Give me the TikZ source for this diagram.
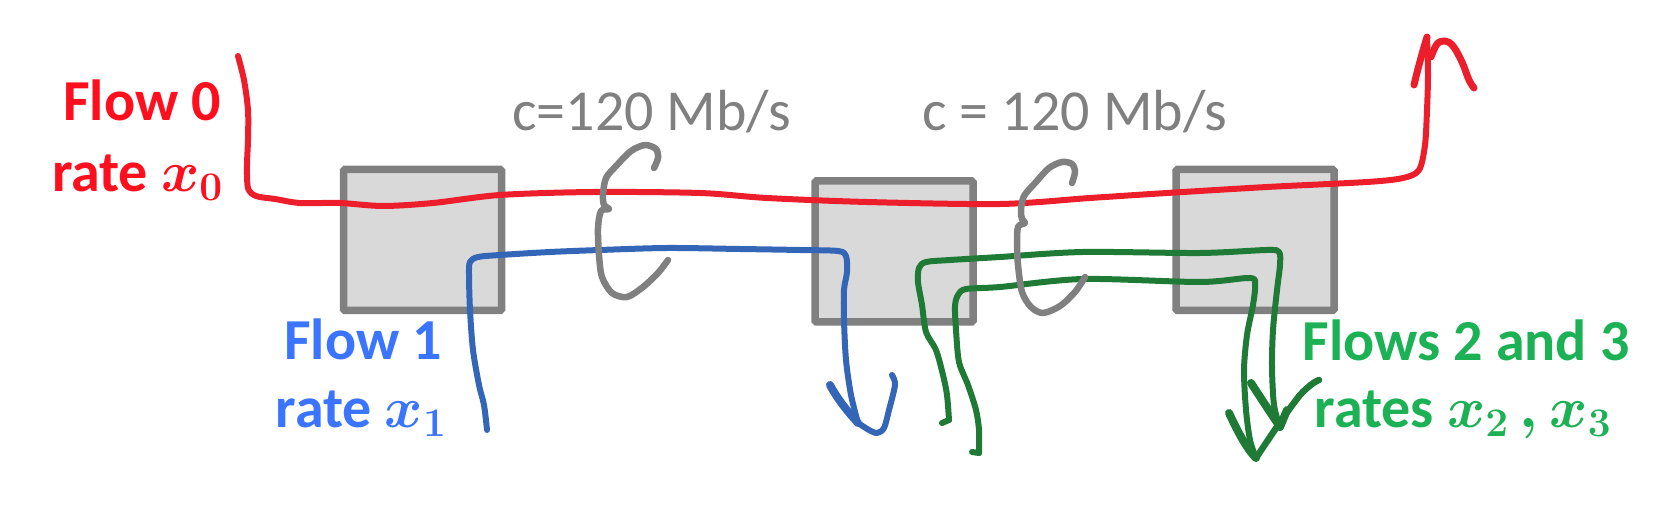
\documentclass[tikz,border=0pt]{standalone}
\usepackage{fix-cm}
\usepackage{fontspec}
\setmainfont{Carlito}

\definecolor{redtxt}{RGB}{255,14,30}
\definecolor{redline}{RGB}{236,30,44}
\definecolor{bluetxt}{RGB}{59,117,255}
\definecolor{blueline}{RGB}{52,102,184}
\definecolor{greentxt}{RGB}{27,177,84}
\definecolor{greenline}{RGB}{31,122,54}
\definecolor{graytxt}{RGB}{128,128,128}
\definecolor{boxgray}{RGB}{128,128,128}
\definecolor{boxfill}{RGB}{217,217,217}

\tikzset{
  router/.style={draw=boxgray, fill=boxfill, line width=7.5pt, minimum width=158pt,
    minimum height=141pt, inner sep=0pt, rounded corners=1.5pt},
  flowline/.style={line width=6pt, line cap=round, line join=round},
  redflow/.style={flowline, draw=redline},
  blueflow/.style={flowline, draw=blueline},
  greenflow/.style={flowline, draw=greenline},
  barb/.style={line width=7pt, line cap=round, line join=round},
  bracestroke/.style={draw=graytxt, line width=6.5pt, line cap=round, line join=round},
  flowlbl/.style={inner sep=0pt, font=\fontsize{58}{68}\selectfont\bfseries\boldmath},
  caplbl/.style={inner sep=0pt, font=\fontsize{58}{68}\selectfont, text=graytxt},
}

\begin{document}
\begin{tikzpicture}[x=1pt,y=-1pt]
\useasboundingbox (0,0) rectangle (1660,510);

% routers
\node[router] (r1) at (422.5,240) {};
\node[router] (r2) at (894,251.5) {};
\node[router] (r3) at (1255,240) {};

% labels
\node[flowlbl, text=redtxt, anchor=base east] (l0a) at (221,121) {Flow 0};
\node[flowlbl, text=redtxt, anchor=base east] (l0b) at (223,192) {rate $x_0$};
\node[flowlbl, text=bluetxt, anchor=base] (l1a) at (363,360) {Flow 1};
\node[flowlbl, text=bluetxt, anchor=base] (l1b) at (361,428) {rate $x_1$};
\node[flowlbl, text=greentxt, anchor=base] (l2a) at (1466,361) {Flows 2 and 3};
\node[flowlbl, text=greentxt, anchor=base] (l2b) at (1463,428) {rates $x_2\,, x_3$};
\node[caplbl, anchor=base west] (c1) at (512,131) {c=120 Mb/s};
\node[caplbl, anchor=base west] (c2) at (922,131) {c = 120 Mb/s};

% endpoints
\coordinate (f0s) at (238,56);
\coordinate (f0e) at (1427,37);
\coordinate (f1s) at (487,430);
\coordinate (f1e) at (858,423);
\coordinate (f2s) at (949,420);
\coordinate (f2e) at (1280,427);
\coordinate (f3s) at (979,453);
\coordinate (f3e) at (1256,458);

% flow 0 (red)
\draw[redflow] plot[smooth, tension=0.5] coordinates {(f0s) (244,80) (248,110) (248,140) (247,165) (248,188) (256,196) (275,199) (300,203) (340,203) (383,206) (433,203) (500,195) (593,192) (700,193) (767,198) (867,202) (1000,204) (1090,198) (1167,193) (1267,187) (1367,182) (1403,178) (1419,170) (1425,145) (1427,110) (1428,75) (f0e)};
\draw[barb, draw=redline] (1414,85) .. controls (1418,68) and (1423,50) .. (f0e);
\draw[barb, draw=redline] plot[smooth, tension=0.6] coordinates {(1431,57) (1437,44) (1445,41) (1453,46) (1462,62) (1469,80) (1474,88)};

% flow 1 (blue)
\draw[blueflow] plot[smooth, tension=0.5] coordinates {(f1s) (484,405) (479,385) (473,350) (470,310) (469,275) (470,262) (478,257) (500,255) (550,252) (600,250) (667,248) (740,249) (800,250) (838,251) (846,256) (847,272) (844,290) (844,320) (846,360) (851,395) (f1e)};
\draw[barb, draw=blueline, line width=8pt] (830,385) .. controls (838,400) and (848,412) .. (f1e);
\draw[barb, draw=blueline, line width=6pt] plot[smooth, tension=0.5] coordinates {(f1e) (869,430) (877,433) (884,428) (889,410) (895,385) (892,375)};

% flows 2 and 3 (green)
\draw[greenflow] (942,423) -- (f2s);
\draw[greenflow] plot[smooth, tension=0.5] coordinates {(f2s) (947,395) (943,375) (936,350) (926,332) (922,305) (918,282) (919,268) (926,262) (950,260) (1000,257) (1083,252) (1200,253) (1267,250) (1279,252) (1280,265) (1277,290) (1273,330) (1272,367) (1274,405) (f2e)};
\draw[barb, draw=greenline, line width=8pt] (1251,383) .. controls (1262,400) and (1272,415) .. (f2e) -- (1287,410);
\draw[greenflow] (972,452) -- (f3s);
\draw[greenflow] plot[smooth, tension=0.5] coordinates {(f3s) (979,430) (976,410) (968,385) (959,362) (956,330) (955,306) (958,295) (966,289) (1000,287) (1083,279) (1200,282) (1250,278) (1255,286) (1253,305) (1247,335) (1244,370) (1246,410) (1250,440) (f3e)};
\draw[barb, draw=greenline, line width=8pt] (1229,413) .. controls (1237,430) and (1246,448) .. (f3e);
\draw[barb, draw=greenline, line width=6.5pt] plot[smooth, tension=0.5] coordinates {(f3e) (1268,440) (1283,418) (1300,395) (1312,384) (1319,380)};

% capacity braces (gray)
\draw[bracestroke] plot[smooth, tension=0.5] coordinates {(654,168) (658,158) (656,149) (645,145) (631,151) (617,165) (606,178) (603,195) (604,205) (609,209) (601,211) (598,228) (599,255) (602,277) (612,293) (627,297) (643,287) (658,273) (668,260)};
\draw[bracestroke] plot[smooth, tension=0.5] coordinates {(1072,183) (1075,172) (1072,164) (1062,162) (1049,168) (1036,182) (1024,196) (1021,210) (1022,219) (1025,223) (1018,227) (1017,245) (1018,265) (1022,292) (1031,307) (1043,313) (1060,306) (1075,292) (1085,277)};

\end{tikzpicture}
\end{document}
